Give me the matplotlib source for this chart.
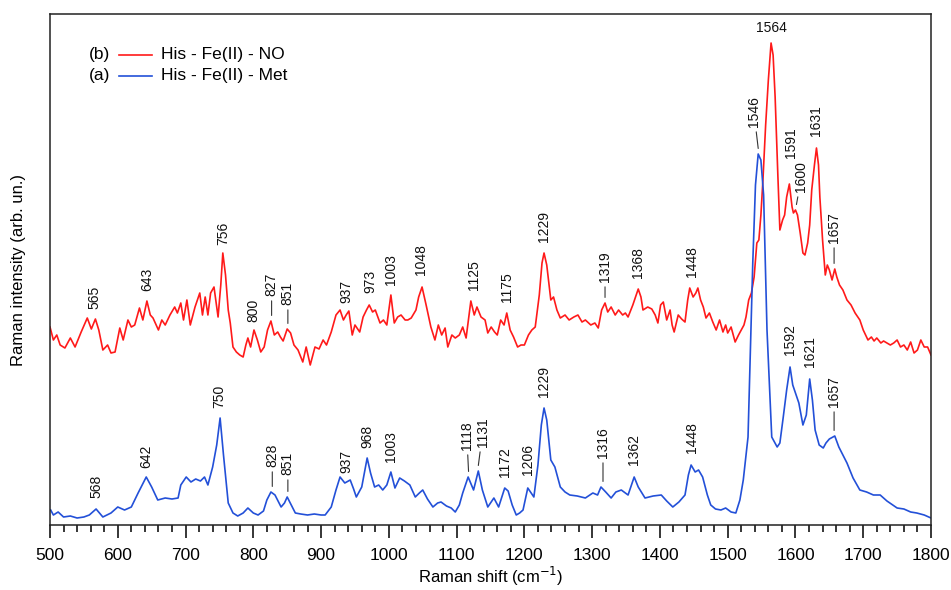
import numpy as np
import matplotlib
matplotlib.use("Agg")
from matplotlib import pyplot as plt
from matplotlib.ticker import MultipleLocator

plt.rcParams["font.family"] = ["Liberation Sans", "DejaVu Sans"]

# Raman shift (cm-1) and intensity (arb. un.) of the two spectra
met_shift = [
    501, 505, 512, 520, 530, 540, 550, 558, 568, 578, 590, 600, 610, 620, 630,
    642, 650, 659, 670, 680, 689, 693, 701, 708, 715, 722, 728, 733, 740, 746,
    751, 756, 763, 770, 777, 785, 792, 800, 807, 815, 820, 826, 832, 841, 846,
    850, 856, 862, 870, 880, 890, 900, 906, 915, 922, 928, 935, 943, 948, 952,
    960, 968, 973, 979, 985, 991, 997, 1003, 1009, 1016, 1023, 1031, 1039,
    1045, 1050, 1057, 1065, 1072, 1077, 1085, 1092, 1098, 1104, 1109, 1117,
    1125, 1132, 1138, 1146, 1150, 1155, 1162, 1171, 1176, 1182, 1188, 1193,
    1198, 1205, 1210, 1214, 1220, 1225, 1229, 1233, 1239, 1245, 1253, 1260,
    1267, 1278, 1290, 1301, 1308, 1313, 1320, 1328, 1335, 1343, 1353, 1362,
    1368, 1378, 1390, 1402, 1410, 1419, 1428, 1437, 1442, 1446, 1452, 1457,
    1463, 1470, 1475, 1482, 1490, 1497, 1505, 1512, 1518, 1523, 1530, 1537,
    1541, 1545, 1549, 1553, 1558, 1565, 1573, 1577, 1582, 1587, 1592, 1596,
    1600, 1605, 1611, 1616, 1621, 1625, 1629, 1635, 1641, 1645, 1650, 1658,
    1664, 1670, 1676, 1685, 1695, 1705, 1715, 1725, 1735, 1750, 1760, 1770,
    1779, 1790, 1800,
]
met_int = [
    15, 10, 13, 8, 9, 7, 8, 10, 16, 8, 12, 18, 15, 18, 32,
    48, 38, 25, 27, 26, 27, 40, 48, 43, 46, 44, 48, 40, 58, 80,
    107, 70, 22, 12, 9, 12, 17, 12, 10, 14, 25, 33, 30, 18, 22,
    28, 20, 12, 11, 10, 11, 10, 10, 18, 35, 48, 42, 45, 36, 28,
    38, 67, 52, 38, 40, 35, 40, 53, 37, 47, 44, 40, 28,
    32, 35, 26, 18, 22, 23, 19, 17, 13, 20, 32, 48,
    35, 54, 35, 18, 22, 27, 18, 37, 34, 20, 10, 12,
    15, 37, 32, 28, 60, 100, 117, 105, 65, 58, 38, 33,
    30, 29, 27, 32, 30, 38, 33, 27, 33, 35, 30, 48,
    38, 27, 29, 30, 24, 18, 23, 30, 50, 60, 53, 55,
    48, 30, 20, 16, 15, 17, 13, 12, 25, 45, 88, 262,
    340, 371, 365, 330, 195, 88, 78, 82, 108, 135, 158, 140,
    132, 122, 100, 110, 146, 125, 95, 80, 77, 82, 86, 89,
    78, 70, 62, 47, 35, 33, 30, 30, 24, 17, 16, 13,
    12, 10, 7,
]

no_shift = [
    500, 505, 510, 515, 522, 530, 537, 546, 555, 561, 567, 572, 578, 585, 590,
    596, 603, 608, 615, 620, 625, 632, 637, 643, 648, 652, 660, 665, 670, 677,
    684, 688, 693, 697, 702, 707, 714, 721, 725, 729, 733, 737, 742, 748, 752,
    755, 759, 763, 766, 770, 775, 780, 785, 789, 792, 796, 801, 806, 811, 816,
    821, 826, 831, 836, 840, 844, 850, 855, 860, 866, 870, 873, 878, 884, 891,
    897, 903, 908, 915, 922, 928, 933, 937, 941, 946, 950, 957, 962, 967, 971,
    976, 980, 987, 992, 997, 1003, 1008, 1013, 1018, 1024, 1028, 1033, 1040,
    1044, 1049, 1055, 1062, 1068, 1073, 1078, 1083, 1087, 1093, 1098, 1104,
    1109, 1114, 1121, 1126, 1130, 1136, 1142, 1146, 1151, 1156, 1160, 1165,
    1170, 1174, 1179, 1184, 1190, 1195, 1200, 1206, 1211, 1216, 1222, 1226,
    1229, 1233, 1239, 1243, 1248, 1253, 1260, 1266, 1273, 1279, 1285, 1290,
    1298, 1304, 1309, 1314, 1319, 1323, 1328, 1334, 1339, 1345, 1349, 1353,
    1360, 1368, 1372, 1375, 1382, 1388, 1393, 1397, 1401, 1405, 1410, 1415,
    1418, 1421, 1427, 1432, 1437, 1441, 1444, 1449, 1453, 1456, 1460, 1464,
    1468, 1473, 1478, 1483, 1488, 1493, 1497, 1500, 1505, 1511, 1516, 1520,
    1524, 1527, 1531, 1535, 1539, 1543, 1546, 1549, 1552, 1556, 1560, 1564,
    1567, 1570, 1574, 1577, 1581, 1584, 1587, 1591, 1595, 1597, 1600, 1603,
    1607, 1611, 1614, 1616, 1618, 1621, 1624, 1628, 1631, 1634, 1636, 1640,
    1644, 1647, 1650, 1654, 1658, 1661, 1665, 1670, 1676, 1682, 1688, 1695,
    1700, 1707, 1712, 1716, 1720, 1726, 1730, 1735, 1740, 1745, 1750, 1755,
    1760, 1765, 1770, 1775, 1780, 1785, 1790, 1795, 1800,
]
no_int = [
    198, 185, 190, 180, 177, 187, 178, 193, 207, 196, 206, 195, 175, 180, 172,
    173, 197, 185, 205, 198, 200, 217, 205, 224, 210, 207, 195, 205, 200, 210,
    218, 212, 222, 205, 225, 200, 218, 232, 210, 228, 210, 232, 238, 208, 240,
    272, 250, 215, 202, 178, 173, 170, 168, 180, 187, 178, 195, 185, 173, 178,
    195, 204, 190, 193, 188, 184, 196, 192, 180, 175, 168, 163, 178, 160, 178,
    176, 185, 180, 193, 210, 215, 205, 210, 214, 190, 200, 193, 208, 215, 220,
    213, 215, 202, 205, 200, 230, 202, 208, 210, 205, 205, 207, 215,
    228, 238, 220, 198, 185, 200, 190, 197, 178, 190, 187, 190,
    198, 187, 224, 210, 218, 208, 205, 192, 198, 193, 190, 205,
    200, 212, 195, 188, 178, 180, 180, 190, 195, 198, 230, 262,
    272, 260, 225, 228, 215, 207, 210, 205, 208, 210, 203, 205,
    200, 202, 197, 215, 222, 213, 218, 210, 215, 210, 212, 208,
    220, 236, 228, 215, 218, 216, 210, 202, 220, 223, 205, 215,
    200, 193, 210, 206, 203, 225, 237, 228, 232, 237, 225, 218,
    207, 212, 203, 195, 205, 193, 200, 192, 198, 183, 190, 195,
    200, 208, 225, 232, 248, 282, 285, 310, 345, 400, 445, 482,
    470, 428, 350, 295, 305, 310, 328, 341, 318, 312, 315, 310,
    292, 272, 270, 276, 282, 300, 335, 360, 377, 360, 328, 285,
    250, 260, 255, 245, 256, 248, 240, 235, 225, 220, 212, 205,
    195, 185, 188, 184, 187, 182, 184, 182, 180, 182, 185, 178,
    180, 175, 183, 172, 175, 185, 178, 178, 170,
]

# peak labels: text, shift, gap above peak (px), side shift (px), leader line
no_peaks = [
    ("565", 565, 10, 0, False), ("643", 643, 10, 0, False),
    ("756", 756, 8, 0, False), ("800", 800, 8, 0, False),
    ("827", 827, 25, 0, True), ("851", 851, 24, 0, True),
    ("937", 937, 8, 0, False), ("973", 973, 12, 0, False),
    ("1003", 1003, 10, 0, False), ("1048", 1048, 12, 0, False),
    ("1125", 1125, 11, 0, False), ("1175", 1175, 11, 0, False),
    ("1229", 1229, 11, 0, False), ("1319", 1319, 21, 0, True),
    ("1368", 1368, 11, 0, False), ("1448", 1448, 11, 0, False),
    ("1591", 1591, 26, 2, False), ("1600", 1600, 18, 6, True),
    ("1631", 1631, 12, 0, False), ("1657", 1657, 26, 0, True),
]
met_peaks = [
    ("568", 568, 11, 0, False), ("642", 642, 9, 0, False),
    ("750", 750, 10, 0, False), ("828", 828, 25, 0, True),
    ("851", 851, 22, 0, True), ("937", 937, 10, 0, False),
    ("968", 968, 10, 0, False), ("1003", 1003, 10, 0, False),
    ("1118", 1118, 27, -2, True), ("1131", 1131, 24, 5, True),
    ("1172", 1172, 11, 0, False), ("1206", 1206, 13, 0, False),
    ("1229", 1229, 11, 0, False), ("1316", 1316, 29, 0, True),
    ("1362", 1362, 12, 0, False), ("1448", 1448, 12, 0, False),
    ("1546", 1546, 27, -5, True), ("1592", 1592, 12, 0, False),
    ("1621", 1621, 12, 0, False), ("1657", 1657, 29, 0, True),
]

red = "#ff1a1a"
blue = "#2350d8"

fig = plt.figure(figsize=(9.51, 5.90), dpi=100)
ax = fig.add_axes([50 / 951, 65 / 590, 881 / 951, 511 / 590])

ax.plot(no_shift, no_int, color=red, lw=1.2)
ax.plot(met_shift, met_int, color=blue, lw=1.2)

px2pt = 72 / 100


def label_peaks(shift, inten, peaks):
    shift = np.asarray(shift)
    inten = np.asarray(inten)
    for text, x, gap, dx, line in peaks:
        near = np.abs(shift - x) <= 4
        y = inten[near].max() if near.any() else np.interp(x, shift, inten)
        kw = {}
        if line:
            kw["arrowprops"] = dict(arrowstyle="-", color="#333333", lw=0.8,
                                    shrinkA=1.5, shrinkB=4)
        ax.annotate(text, xy=(x, y), xytext=(dx * px2pt, gap * px2pt),
                    textcoords="offset points", rotation=90, ha="center",
                    va="bottom", fontsize=10, color="#111111", **kw)


label_peaks(no_shift, no_int, no_peaks)
label_peaks(met_shift, met_int, met_peaks)
# strongest band labelled horizontally
ax.annotate("1564", xy=(1564, max(no_int)), xytext=(0, 8 * px2pt),
            textcoords="offset points", ha="center", va="bottom",
            fontsize=10, color="#111111")

ax.set_xlim(500, 1800)
ax.set_ylim(0, 511)
ax.xaxis.set_major_locator(MultipleLocator(100))
ax.xaxis.set_minor_locator(MultipleLocator(20))
ax.tick_params(axis="x", which="major", direction="out", length=9.5,
               width=1.1, labelsize=12.5, pad=7)
ax.tick_params(axis="x", which="minor", direction="out", length=5, width=1.1)
ax.set_yticks([])
for sp in ax.spines.values():
    sp.set_linewidth(1.1)
    sp.set_color("#222222")

ax.set_xlabel("Raman shift (cm$^{-1}$)", fontsize=12)
ax.xaxis.set_label_coords(0.5, -0.079)
ax.set_ylabel("Raman intensity (arb. un.)", fontsize=12)
ax.yaxis.set_label_coords(-0.027, 0.5)

# legend drawn by hand: "(b) ---- His - Fe(II) - NO"
for row, (tag, col, name) in enumerate([("(b)", red, "His - Fe(II) - NO"),
                                        ("(a)", blue, "His - Fe(II) - Met")]):
    yy = 0.920 - row * 0.041
    ax.text(0.068, yy, tag, transform=ax.transAxes, ha="right", va="center",
            fontsize=12.5)
    ax.plot([0.078, 0.116], [yy, yy], transform=ax.transAxes, color=col,
            lw=1.2)
    ax.text(0.126, yy, name, transform=ax.transAxes, ha="left", va="center",
            fontsize=12.5)

fig.savefig("out.png", dpi=100)
